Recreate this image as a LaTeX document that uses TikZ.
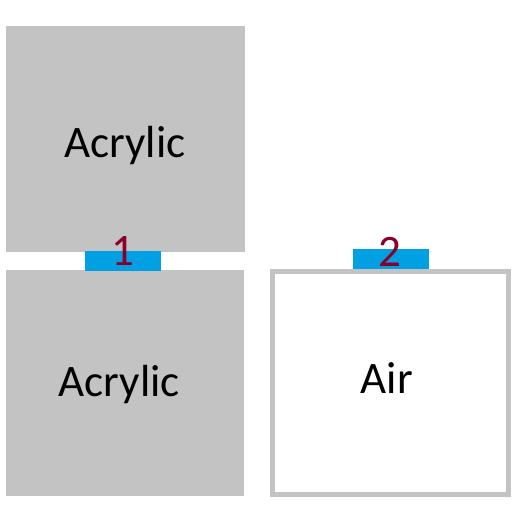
\documentclass[tikz,border=0pt]{standalone}
\usepackage{fontspec}
\setmainfont{Carlito}
\definecolor{slabgray}{RGB}{195,195,195}
\definecolor{sensorblue}{RGB}{0,160,227}
\definecolor{labelred}{RGB}{139,0,40}
\begin{document}
\begin{tikzpicture}[x=1pt,y=-1pt,
  slab/.style={fill=slabgray,draw=none},
  sensor/.style={fill=sensorblue,draw=none},
  airbox/.style={draw=slabgray,line width=5pt,fill=white},
  mattext/.style={font=\fontsize{45}{54}\selectfont,anchor=base,inner sep=0pt},
  numtext/.style={font=\fontsize{45}{54}\selectfont,anchor=base,inner sep=0pt,text=labelred}]
\useasboundingbox (0,0) rectangle (522,522);
\fill[slab] (6,26) rectangle (245,251.5);
\fill[slab] (5.5,270) rectangle (244,496);
\draw[airbox] (272.5,271.5) rectangle (508.5,494.5);
\fill[sensor] (85,251) rectangle (161,270.5);
\fill[sensor] (353,249) rectangle (429,268.5);
\node[mattext] (acr1) at (125,157.3) {Acrylic};
\node[mattext] (acr2) at (119.3,396.7) {Acrylic};
\node[mattext] (air) at (386.7,393.5) {Air};
\node[numtext] (n1) at (122.5,265) {1};
\node[numtext] (n2) at (389.7,266) {2};
\end{tikzpicture}
\end{document}
